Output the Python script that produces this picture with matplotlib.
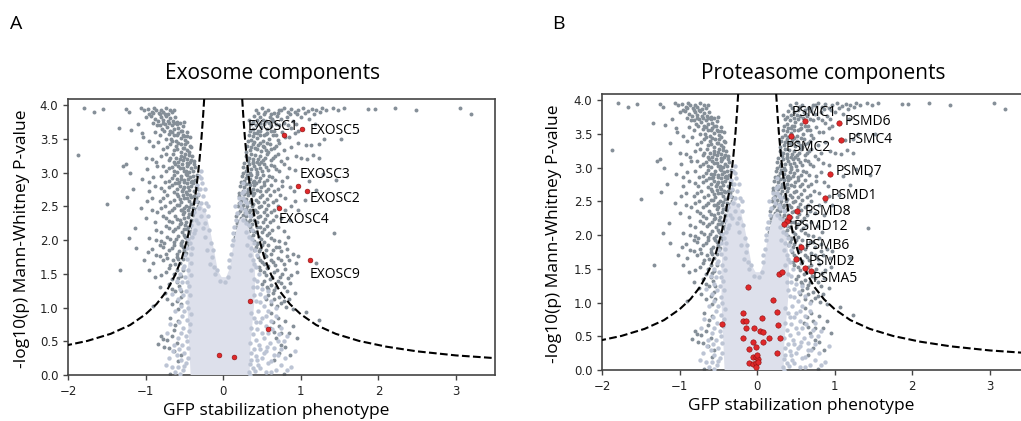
import matplotlib.pyplot as plt

# ---- shared screen background (same genes drawn in both panels) ----
# dark grey genes (x = GFP stabilization phenotype, y = -log10 p)
grey_pts = [
    # top row
    (-1.79, 3.95), (-1.66, 3.90), (-1.55, 3.94), (-1.25, 3.94), (-1.21, 3.90), (-1.06, 3.95),
    (-1.02, 3.93), (-0.97, 3.94), (-0.92, 3.90), (-0.89, 3.95), (-0.86, 3.92), (-0.83, 3.88),
    (-0.80, 3.93), (-0.77, 3.90), (-0.74, 3.95), (-0.71, 3.87), (-0.69, 3.92),
    (0.42, 3.92), (0.50, 3.95), (0.58, 3.93), (0.66, 3.88), (0.72, 3.92), (0.78, 3.95), (0.83, 3.90),
    (0.88, 3.94), (0.92, 3.89), (0.97, 3.93), (1.03, 3.95), (1.09, 3.91), (1.14, 3.94),
    (1.20, 3.92), (1.27, 3.95), (1.33, 3.93), (1.41, 3.95), (1.56, 3.96), (1.86, 3.94),
    (1.95, 3.94), (2.22, 3.95), (2.48, 3.93), (3.05, 3.96), (3.19, 3.87),
    # 3.75 - 3.85
    (-1.00, 3.82), (-0.93, 3.84), (-0.88, 3.80), (-0.84, 3.76), (-0.80, 3.83), (-0.77, 3.78),
    (-0.74, 3.84), (-0.71, 3.76), (-0.68, 3.81), (-0.65, 3.77), (-0.62, 3.83), (-0.59, 3.75),
    (0.40, 3.84), (0.44, 3.78), (0.48, 3.82), (0.52, 3.86), (0.55, 3.77), (0.60, 3.82),
    (0.64, 3.76), (0.69, 3.84), (0.74, 3.79), (0.82, 3.83), (0.90, 3.77), (1.00, 3.82), (1.10, 3.80),
    # 3.6 - 3.75
    (-1.34, 3.66), (-1.19, 3.63), (-1.10, 3.72), (-0.85, 3.70), (-0.79, 3.64), (-0.75, 3.72),
    (-0.72, 3.67), (-0.69, 3.61), (-0.66, 3.70), (-0.63, 3.64), (-0.60, 3.72), (-0.58, 3.66),
    (-0.55, 3.61), (-0.52, 3.69),
    (0.36, 3.72), (0.39, 3.65), (0.42, 3.70), (0.45, 3.62), (0.49, 3.68), (0.53, 3.72),
    (0.57, 3.64), (0.61, 3.69), (0.66, 3.62), (0.72, 3.70), (0.88, 3.66), (0.97, 3.62),
    # 3.45 - 3.6
    (-1.04, 3.58), (-1.03, 3.52), (-0.95, 3.47), (-0.82, 3.55), (-0.74, 3.50), (-0.70, 3.57),
    (-0.67, 3.49), (-0.64, 3.55), (-0.61, 3.47), (-0.58, 3.58), (-0.55, 3.51), (-0.52, 3.56),
    (-0.49, 3.48), (-0.46, 3.54),
    (0.33, 3.55), (0.36, 3.48), (0.40, 3.58), (0.43, 3.51), (0.47, 3.55), (0.51, 3.47),
    (0.55, 3.57), (0.59, 3.50), (0.64, 3.55), (0.70, 3.48), (0.85, 3.52), (0.93, 3.58),
    (1.30, 3.50), (1.52, 3.49),
    # 3.3 - 3.45
    (-0.90, 3.40), (-0.78, 3.35), (-0.68, 3.42), (-0.64, 3.33), (-0.61, 3.39), (-0.58, 3.44),
    (-0.55, 3.31), (-0.52, 3.37), (-0.49, 3.42), (-0.46, 3.34), (-0.43, 3.40),
    (0.31, 3.40), (0.34, 3.33), (0.38, 3.43), (0.41, 3.36), (0.45, 3.41), (0.49, 3.32),
    (0.53, 3.38), (0.57, 3.44), (0.62, 3.35), (0.68, 3.40), (0.78, 3.33), (1.07, 3.41),
    (1.13, 3.41), (1.24, 3.43),
    # 3.15 - 3.3
    (-1.87, 3.26), (-1.29, 3.09), (-1.25, 3.13), (-0.92, 3.20), (-0.80, 3.25), (-0.70, 3.18),
    (-0.65, 3.27), (-0.61, 3.21), (-0.58, 3.15), (-0.55, 3.25), (-0.52, 3.18), (-0.49, 3.28),
    (-0.46, 3.20), (-0.43, 3.16), (-0.40, 3.24),
    (0.29, 3.24), (0.32, 3.17), (0.36, 3.27), (0.39, 3.20), (0.43, 3.15), (0.47, 3.25),
    (0.51, 3.19), (0.56, 3.27), (0.61, 3.18), (0.67, 3.24), (0.74, 3.17), (0.94, 3.25),
    (1.00, 3.21), (1.08, 3.20), (1.24, 3.22),
    # 3.0 - 3.15
    (-0.98, 3.05), (-0.85, 3.10), (-0.74, 3.02), (-0.66, 3.08), (-0.62, 3.13), (-0.59, 3.01),
    (-0.56, 3.07), (-0.53, 3.12), (-0.50, 3.03), (-0.47, 3.09), (-0.44, 3.01), (-0.41, 3.06),
    (-0.38, 3.12),
    (0.26, 3.08), (0.29, 3.02), (0.33, 3.12), (0.36, 3.05), (0.40, 3.10), (0.44, 3.01),
    (0.48, 3.07), (0.53, 3.13), (0.58, 3.04), (0.65, 3.09), (0.72, 3.02), (0.85, 3.07),
    # 2.85 - 3.0
    (-1.05, 2.90), (-0.95, 2.86), (-0.80, 2.95), (-0.70, 2.88), (-0.64, 2.97), (-0.60, 2.90),
    (-0.57, 2.86), (-0.54, 2.95), (-0.51, 2.89), (-0.48, 2.98), (-0.45, 2.91), (-0.42, 2.86),
    (-0.39, 2.95), (-0.36, 2.89),
    (0.24, 2.95), (0.27, 2.88), (0.31, 2.97), (0.34, 2.90), (0.38, 2.86), (0.42, 2.94),
    (0.46, 2.88), (0.51, 2.96), (0.56, 2.89), (0.63, 2.93), (0.76, 2.87), (1.28, 2.98), (1.45, 2.89),
    # 2.7 - 2.85
    (-1.16, 2.76), (-0.88, 2.80), (-0.76, 2.73), (-0.66, 2.82), (-0.60, 2.75), (-0.56, 2.80),
    (-0.53, 2.72), (-0.50, 2.78), (-0.47, 2.84), (-0.44, 2.74), (-0.41, 2.80), (-0.38, 2.72),
    (-0.35, 2.78),
    (0.22, 2.80), (0.25, 2.73), (0.29, 2.83), (0.32, 2.76), (0.36, 2.71), (0.40, 2.81),
    (0.44, 2.74), (0.49, 2.79), (0.55, 2.72), (0.62, 2.82), (0.70, 2.75), (0.86, 2.78), (0.91, 2.72),
    # 2.55 - 2.7
    (-1.50, 2.54), (-0.92, 2.62), (-0.82, 2.58), (-0.72, 2.66), (-0.63, 2.59), (-0.58, 2.65),
    (-0.54, 2.57), (-0.50, 2.63), (-0.47, 2.68), (-0.44, 2.58), (-0.41, 2.64), (-0.38, 2.56),
    (-0.35, 2.62), (-0.32, 2.67),
    (0.20, 2.65), (0.23, 2.58), (0.27, 2.68), (0.30, 2.61), (0.34, 2.56), (0.38, 2.66),
    (0.42, 2.59), (0.47, 2.64), (0.53, 2.57), (0.60, 2.67), (0.68, 2.60), (0.80, 2.63), (1.05, 2.60),
    # 2.4 - 2.55
    (-1.06, 2.47), (-0.85, 2.42), (-0.75, 2.50), (-0.66, 2.44), (-0.60, 2.52), (-0.55, 2.45),
    (-0.51, 2.41), (-0.48, 2.50), (-0.45, 2.44), (-0.42, 2.53), (-0.39, 2.47), (-0.36, 2.41),
    (-0.33, 2.50), (-0.30, 2.44),
    (0.19, 2.50), (0.22, 2.43), (0.26, 2.52), (0.29, 2.46), (0.33, 2.41), (0.37, 2.51),
    (0.41, 2.44), (0.46, 2.49), (0.52, 2.42), (0.58, 2.52), (0.66, 2.45), (0.88, 2.50), (0.96, 2.45),
    # 2.25 - 2.4
    (-0.78, 2.35), (-0.70, 2.28), (-0.62, 2.36), (-0.56, 2.30), (-0.52, 2.38), (-0.48, 2.27),
    (-0.45, 2.34), (-0.42, 2.29), (-0.39, 2.37), (-0.36, 2.31), (-0.33, 2.26), (-0.30, 2.35),
    (0.17, 2.35), (0.21, 2.28), (0.25, 2.37), (0.28, 2.30), (0.32, 2.26), (0.36, 2.36),
    (0.40, 2.29), (0.45, 2.34), (0.51, 2.27), (0.57, 2.37), (0.64, 2.30), (0.75, 2.33),
    # 2.1 - 2.25
    (-0.86, 2.15), (-0.74, 2.21), (-0.65, 2.13), (-0.58, 2.20), (-0.53, 2.12), (-0.49, 2.22),
    (-0.46, 2.16), (-0.43, 2.11), (-0.40, 2.19), (-0.37, 2.13), (-0.34, 2.22), (-0.31, 2.16),
    (0.16, 2.20), (0.20, 2.13), (0.24, 2.22), (0.27, 2.15), (0.31, 2.11), (0.35, 2.20),
    (0.39, 2.14), (0.44, 2.19), (0.50, 2.12), (0.56, 2.21), (0.63, 2.15), (0.84, 2.04), (1.43, 2.10),
    # 1.95 - 2.1
    (-0.95, 2.03), (-0.80, 1.98), (-0.72, 2.05), (-0.64, 1.97), (-0.58, 2.06), (-0.53, 1.99),
    (-0.49, 2.04), (-0.45, 1.96), (-0.42, 2.03), (-0.38, 1.98), (-0.35, 2.06),
    (0.15, 2.05), (0.19, 1.98), (0.23, 2.06), (0.27, 2.00), (0.31, 1.96), (0.35, 2.04),
    (0.40, 1.99), (0.46, 2.05), (0.53, 1.97), (0.62, 2.03), (0.72, 1.98),
    # 1.6 - 1.95
    (-1.12, 1.88), (-0.97, 1.82), (-0.86, 1.78), (-0.78, 1.90), (-0.70, 1.85), (-0.63, 1.92),
    (-0.57, 1.83), (-0.52, 1.89), (-0.48, 1.81), (-0.44, 1.93),
    (0.42, 1.90), (0.46, 1.83), (0.50, 1.92), (0.55, 1.85), (0.61, 1.80), (0.68, 1.89),
    (0.75, 1.83), (0.97, 1.76), (1.20, 1.66),
    (-0.82, 1.76), (-0.69, 1.63), (-0.65, 1.70), (-0.60, 1.75), (-0.56, 1.66), (-0.52, 1.72),
    (-1.33, 1.55),
    (0.47, 1.70), (0.52, 1.65), (0.58, 1.62), (0.64, 1.68), (0.70, 1.74), (0.78, 1.64), (0.85, 1.71),
    # 1.0 - 1.6
    (-0.88, 1.45), (-0.74, 1.52), (-0.66, 1.42), (-0.60, 1.55), (-0.55, 1.47),
    (0.48, 1.55), (0.55, 1.48), (0.60, 1.42), (0.66, 1.52), (0.73, 1.45), (0.80, 1.57), (0.88, 1.48),
    (-0.70, 1.35), (-0.62, 1.25), (-0.57, 1.32),
    (0.50, 1.35), (0.58, 1.28), (0.64, 1.22), (0.68, 1.31), (0.74, 1.37), (0.82, 1.25),
    (-0.60, 1.09), (-0.55, 1.15),
    (0.55, 1.12), (0.62, 1.05), (0.72, 1.16), (0.81, 1.01), (0.78, 1.10),
    # below 1.0
    (-0.78, 0.54), (-0.72, 0.52), (-0.76, 0.42), (-0.70, 0.40), (-0.63, 0.67), (-0.58, 0.80),
    (-0.55, 0.30), (-0.68, 0.02),
    (0.62, 0.92), (0.70, 0.85), (0.90, 0.72), (0.85, 0.62), (0.68, 0.55), (0.75, 0.45),
    (1.07, 0.94), (1.24, 0.81), (0.60, 0.70), (0.78, 0.02),
]

# more dark grey genes filling the two dense ridges
grey_ridge_pts = [
    (-0.95, 3.86), (-0.90, 3.88), (-0.81, 3.86), (-0.75, 3.86), (-0.66, 3.89), (-0.63, 3.92),
    (-0.90, 3.73), (-0.82, 3.70), (-0.78, 3.74), (-0.70, 3.73), (-0.64, 3.74), (-0.56, 3.73),
    (-0.50, 3.75), (-0.88, 3.60), (-0.76, 3.62), (-0.66, 3.60), (-0.60, 3.55), (-0.53, 3.62),
    (-0.50, 3.54), (-0.47, 3.60), (-0.43, 3.52), (-0.84, 3.45), (-0.72, 3.38), (-0.66, 3.46),
    (-0.60, 3.35), (-0.54, 3.43), (-0.50, 3.36), (-0.47, 3.45), (-0.44, 3.31), (-0.41, 3.38),
    (-1.12, 3.36), (-0.74, 3.28), (-0.68, 3.22), (-0.63, 3.16), (-0.56, 3.20), (-0.50, 3.23),
    (-0.47, 3.14), (-0.44, 3.26), (-0.41, 3.19), (-0.37, 3.17), (-1.00, 3.22), (-0.86, 3.16),
    (-0.78, 3.10), (-0.70, 3.06), (-0.64, 3.03), (-0.58, 3.10), (-0.52, 3.07), (-0.48, 3.02),
    (-0.45, 3.13), (-0.39, 3.02), (-0.36, 3.08), (-1.20, 3.00), (-0.90, 2.94), (-0.75, 2.86),
    (-0.66, 2.92), (-0.62, 2.85), (-0.55, 2.91), (-0.50, 2.86), (-0.46, 2.96), (-0.43, 2.93),
    (-0.40, 2.88), (-0.34, 2.96), (-0.96, 2.72), (-0.80, 2.77), (-0.70, 2.79), (-0.63, 2.71),
    (-0.58, 2.84), (-0.52, 2.76), (-0.48, 2.71), (-0.45, 2.79), (-0.39, 2.84), (-0.33, 2.75),
    (-1.24, 2.64), (-0.98, 2.58), (-0.78, 2.63), (-0.68, 2.56), (-0.60, 2.68), (-0.56, 2.61),
    (-0.52, 2.67), (-0.46, 2.62), (-0.43, 2.66), (-0.37, 2.65), (-0.33, 2.57), (-0.92, 2.45),
    (-0.80, 2.48), (-0.70, 2.41), (-0.63, 2.48), (-0.57, 2.52), (-0.53, 2.44), (-0.50, 2.47),
    (-0.44, 2.49), (-0.40, 2.42), (-0.35, 2.46), (-1.00, 2.32), (-0.88, 2.27), (-0.74, 2.33),
    (-0.66, 2.26), (-0.60, 2.31), (-0.54, 2.25), (-0.50, 2.33), (-0.44, 2.38), (-0.38, 2.27),
    (-0.34, 2.34), (-1.14, 2.18), (-0.80, 2.12), (-0.70, 2.18), (-0.62, 2.16), (-0.56, 2.24),
    (-0.51, 2.17), (-0.45, 2.20), (-0.41, 2.14), (-0.35, 2.17), (-1.22, 2.03), (-0.86, 2.00),
    (-0.76, 1.96), (-0.68, 2.01), (-0.61, 2.02), (-0.55, 1.96), (-0.51, 2.08), (-0.47, 2.01),
    (-0.40, 2.07), (-0.92, 1.86), (-0.82, 1.92), (-0.74, 1.80), (-0.66, 1.88), (-0.60, 1.80),
    (-0.54, 1.93), (-0.50, 1.85), (-1.02, 1.70), (-0.90, 1.66), (-0.78, 1.70), (-0.72, 1.74),
    (-0.62, 1.64), (-0.58, 1.72), (-0.96, 1.55), (-0.80, 1.48), (-0.70, 1.58), (-0.64, 1.50),
    (-0.58, 1.44), (-0.52, 1.56), (-0.82, 1.30), (-0.75, 1.22), (-0.66, 1.28), (-0.60, 1.38),
    (-0.54, 1.24), (-0.90, 1.02), (-0.72, 1.12), (-0.66, 1.05), (-0.58, 0.98), (-0.54, 1.05),
    (-0.68, 0.85), (-0.62, 0.74), (-0.66, 0.58), (-0.60, 0.48), (-0.64, 0.35), (-0.58, 0.20),
    (-0.84, 0.46), (-0.80, 0.58),
    (0.45, 3.88), (0.54, 3.90), (0.61, 3.86), (0.70, 3.88), (0.75, 3.92), (0.86, 3.87),
    (0.95, 3.86), (1.05, 3.88), (1.17, 3.87), (1.25, 3.90), (1.48, 3.92), (0.33, 3.78),
    (0.38, 3.75), (0.47, 3.74), (0.51, 3.78), (0.59, 3.74), (0.63, 3.79), (0.68, 3.72),
    (0.78, 3.74), (0.84, 3.70), (0.94, 3.72), (1.18, 3.72), (0.34, 3.62), (0.38, 3.54),
    (0.44, 3.58), (0.48, 3.62), (0.52, 3.55), (0.57, 3.59), (0.62, 3.62), (0.68, 3.55),
    (0.76, 3.60), (0.80, 3.52), (0.32, 3.46), (0.36, 3.38), (0.40, 3.45), (0.44, 3.35),
    (0.47, 3.44), (0.51, 3.40), (0.55, 3.34), (0.60, 3.42), (0.65, 3.36), (0.72, 3.44),
    (0.88, 3.38), (0.96, 3.44), (0.30, 3.30), (0.33, 3.21), (0.38, 3.15), (0.41, 3.26),
    (0.45, 3.20), (0.49, 3.15), (0.54, 3.22), (0.58, 3.30), (0.64, 3.21), (0.70, 3.27),
    (0.82, 3.22), (1.16, 3.26), (0.27, 3.14), (0.31, 3.06), (0.35, 3.00), (0.38, 3.14),
    (0.42, 3.05), (0.46, 3.12), (0.50, 3.02), (0.55, 3.08), (0.61, 3.11), (0.68, 3.05),
    (0.78, 3.12), (0.92, 3.04), (0.25, 2.99), (0.29, 2.92), (0.33, 2.85), (0.36, 2.96),
    (0.40, 2.88), (0.44, 2.98), (0.48, 2.92), (0.53, 2.86), (0.59, 2.95), (0.67, 2.89),
    (0.82, 2.94), (1.10, 2.88), (0.23, 2.86), (0.27, 2.78), (0.31, 2.71), (0.34, 2.82),
    (0.38, 2.75), (0.42, 2.84), (0.47, 2.73), (0.52, 2.81), (0.58, 2.76), (0.66, 2.72),
    (0.76, 2.80), (1.20, 2.74), (0.21, 2.70), (0.25, 2.62), (0.29, 2.56), (0.32, 2.66),
    (0.36, 2.60), (0.40, 2.69), (0.45, 2.57), (0.50, 2.66), (0.56, 2.61), (0.64, 2.57),
    (0.73, 2.66), (0.92, 2.58), (0.20, 2.55), (0.24, 2.47), (0.28, 2.41), (0.31, 2.51),
    (0.35, 2.44), (0.39, 2.53), (0.44, 2.42), (0.49, 2.50), (0.55, 2.46), (0.62, 2.41),
    (0.70, 2.50), (0.80, 2.45), (0.19, 2.40), (0.23, 2.32), (0.27, 2.26), (0.30, 2.36),
    (0.34, 2.29), (0.38, 2.39), (0.43, 2.27), (0.48, 2.35), (0.54, 2.31), (0.60, 2.26),
    (0.68, 2.36), (0.86, 2.30), (0.18, 2.25), (0.22, 2.17), (0.26, 2.11), (0.29, 2.21),
    (0.33, 2.14), (0.37, 2.24), (0.42, 2.12), (0.47, 2.20), (0.53, 2.16), (0.59, 2.11),
    (0.70, 2.20), (0.78, 2.14), (0.17, 2.10), (0.21, 2.01), (0.25, 1.96), (0.29, 2.06),
    (0.33, 1.99), (0.38, 2.08), (0.43, 1.96), (0.49, 2.02), (0.57, 2.07), (0.66, 2.00),
    (0.80, 1.95), (0.40, 1.85), (0.44, 1.94), (0.48, 1.86), (0.53, 1.80), (0.58, 1.92),
    (0.64, 1.85), (0.72, 1.90), (0.82, 1.86), (0.90, 1.80), (0.45, 1.75), (0.50, 1.68),
    (0.55, 1.76), (0.61, 1.70), (0.67, 1.63), (0.74, 1.70), (0.82, 1.76), (0.94, 1.66),
    (0.46, 1.60), (0.52, 1.52), (0.57, 1.58), (0.63, 1.45), (0.69, 1.55), (0.76, 1.50),
    (0.84, 1.44), (0.95, 1.52), (0.53, 1.40), (0.56, 1.30), (0.61, 1.34), (0.66, 1.26),
    (0.71, 1.40), (0.78, 1.30), (0.86, 1.36), (0.92, 1.22), (0.58, 1.18), (0.65, 1.12),
    (0.69, 1.02), (0.75, 1.06), (0.85, 1.12), (0.90, 0.98), (0.64, 0.78), (0.72, 0.72),
    (0.80, 0.80), (0.66, 0.64), (0.74, 0.62), (0.80, 0.42), (0.72, 0.32), (0.86, 0.30),
    (0.66, 0.22), (0.95, 0.55),
]

# pale genes fringing the dense non-hit cloud
light_pts = [
    (-0.62, 0.05), (-0.58, 0.12), (-0.52, 0.08), (-0.48, 0.18), (-0.55, 0.22), (-0.60, 0.30),
    (-0.50, 0.33), (-0.45, 0.40), (-0.53, 0.45), (-0.58, 0.55), (-0.48, 0.58), (-0.44, 0.65),
    (-0.52, 0.70), (-0.57, 0.78), (-0.47, 0.82), (-0.42, 0.90), (-0.50, 0.95), (-0.55, 1.02),
    (-0.46, 1.08), (-0.52, 1.18), (-0.48, 1.25), (-0.44, 1.32), (-0.53, 1.38), (-0.49, 1.45),
    (-0.45, 1.55), (-0.50, 1.62), (-0.46, 1.72), (-0.42, 1.80), (-0.47, 1.88), (-0.43, 1.95),
    (-0.40, 2.05), (-0.36, 2.15), (-0.32, 2.25), (-0.28, 2.35), (-0.25, 2.45), (-0.29, 2.55),
    (-0.26, 2.65), (-0.30, 2.75), (-0.27, 2.85), (-0.31, 2.95), (-0.28, 3.02), (-0.22, 2.55),
    (-0.20, 2.35), (-0.18, 2.15), (-0.24, 2.05), (-0.16, 1.95), (-0.14, 1.75), (-0.12, 1.60),
    (-0.10, 1.50), (-0.21, 1.85), (-0.70, 0.25), (-0.66, 0.12), (-0.72, 0.62),
    (-0.56, 0.02), (-0.50, 0.14), (-0.45, 0.25), (-0.57, 0.38), (-0.47, 0.50), (-0.55, 0.62),
    (-0.43, 0.75), (-0.53, 0.88), (-0.45, 1.00), (-0.58, 1.12), (-0.43, 1.18), (-0.56, 1.28),
    (-0.47, 1.38), (-0.56, 1.50), (-0.41, 1.48), (-0.52, 1.58), (-0.42, 1.66), (-0.49, 1.78),
    (-0.40, 1.88), (-0.45, 2.02), (-0.38, 2.10), (-0.42, 2.22), (-0.35, 2.30), (-0.38, 2.42),
    (-0.31, 2.48), (-0.35, 2.58), (-0.32, 2.68), (-0.24, 2.75), (-0.34, 2.82), (-0.29, 2.92),
    (-0.24, 2.25), (-0.19, 2.50), (-0.26, 2.18), (-0.13, 1.85), (-0.17, 1.65), (-0.08, 1.55),
    (-0.64, 0.45), (-0.68, 0.75), (-0.62, 0.95), (-0.66, 1.20), (-0.60, 1.40), (-0.74, 0.15),
    (-0.65, 0.35),
    (0.33, 0.05), (0.38, 0.10), (0.45, 0.15), (0.36, 0.22), (0.42, 0.28), (0.50, 0.25),
    (0.55, 0.35), (0.40, 0.38), (0.46, 0.45), (0.60, 0.48), (0.52, 0.55), (0.38, 0.60),
    (0.44, 0.68), (0.58, 0.62), (0.65, 0.40), (0.70, 0.30), (0.62, 0.20), (0.75, 0.15),
    (0.68, 0.08), (0.80, 0.25), (0.48, 0.78), (0.40, 0.85), (0.55, 0.88), (0.62, 0.80),
    (0.45, 0.95), (0.52, 1.02), (0.42, 1.10), (0.48, 1.20), (0.58, 1.25), (0.44, 1.30),
    (0.40, 1.42), (0.46, 1.50), (0.42, 1.60), (0.38, 1.70), (0.44, 1.78), (0.36, 1.88),
    (0.40, 1.96), (0.33, 2.05), (0.37, 2.15), (0.30, 2.25), (0.34, 2.35), (0.28, 2.45),
    (0.31, 2.55), (0.26, 2.62), (0.22, 2.55), (0.18, 2.40), (0.14, 2.20), (0.12, 2.00),
    (0.10, 1.80), (0.08, 1.60), (0.06, 1.45), (0.02, 1.38), (-0.04, 1.40), (0.27, 2.72),
    (0.25, 2.85), (0.72, 0.60), (0.78, 0.50), (0.82, 0.58), (0.92, 0.35), (0.87, 0.12),
    (0.35, 0.00), (0.41, 0.06), (0.48, 0.10), (0.55, 0.05), (0.58, 0.18), (0.34, 0.16),
    (0.44, 0.22), (0.52, 0.32), (0.36, 0.33), (0.48, 0.38), (0.57, 0.42), (0.35, 0.48),
    (0.42, 0.52), (0.50, 0.62), (0.36, 0.70), (0.55, 0.72), (0.42, 0.78), (0.50, 0.85),
    (0.36, 0.92), (0.58, 0.95), (0.48, 1.08), (0.40, 1.18), (0.54, 1.15), (0.38, 1.30),
    (0.50, 1.28), (0.36, 1.55), (0.44, 1.40), (0.40, 1.65), (0.35, 1.78), (0.41, 1.85),
    (0.31, 1.92), (0.37, 2.02), (0.29, 2.12), (0.33, 2.22), (0.26, 2.30), (0.30, 2.40),
    (0.23, 2.48), (0.28, 2.58), (0.20, 2.62), (0.24, 2.70), (0.16, 2.30), (0.13, 2.10),
    (0.11, 1.92), (0.07, 1.70), (0.15, 2.50), (0.66, 0.30), (0.70, 0.50), (0.63, 0.68),
    (0.68, 0.88), (0.74, 0.38), (0.82, 0.08), (0.62, 0.05), (0.75, 0.70), (0.68, 1.00),
    (0.62, 1.10),
]

# outline of the saturated cloud of non-hits
core_x = [-0.42, -0.44, -0.46, -0.46, -0.44, -0.40, -0.35, -0.30, -0.22, -0.16, -0.11, -0.07,
          -0.02, 0.04, 0.09, 0.12, 0.16, 0.21, 0.26, 0.32, 0.38, 0.41, 0.41, 0.38, 0.35, 0.34]
core_y = [0.0, 0.5, 1.0, 1.5, 1.9, 2.2, 2.45, 2.55, 2.4, 2.1, 1.8, 1.55,
          1.45, 1.45, 1.6, 1.85, 2.1, 2.3, 2.35, 2.2, 1.95, 1.6, 1.2, 0.8, 0.4, 0.0]

# significance threshold (right branch; left branch is its mirror)
thr_x = [0.245, 0.26, 0.28, 0.31, 0.35, 0.40, 0.46, 0.53, 0.62, 0.73, 0.86, 1.0,
         1.2, 1.45, 1.75, 2.1, 2.5, 3.0, 3.5]
thr_y = [4.09, 3.82, 3.51, 3.13, 2.73, 2.36, 2.03, 1.74, 1.48, 1.24, 1.05, 0.90,
         0.74, 0.61, 0.505, 0.42, 0.35, 0.29, 0.25]

# ---- panel A: exosome ----
exo_names = ['EXOSC1', 'EXOSC5', 'EXOSC3', 'EXOSC2', 'EXOSC4', 'EXOSC9']
exo_x = [0.79, 1.02, 0.96, 1.08, 0.725, 1.12, 0.35, 0.58, -0.06, 0.14]
exo_y = [3.56, 3.65, 2.80, 2.73, 2.47, 1.70, 1.10, 0.68, 0.29, 0.26]
exo_lab_x = [0.31, 1.11, 0.98, 1.11, 0.72, 1.11]
exo_lab_y = [3.63, 3.57, 2.92, 2.57, 2.25, 1.44]

# ---- panel B: proteasome ----
pro_names = ['PSMC1', 'PSMD6', 'PSMC4', 'PSMC2', 'PSMD7', 'PSMD1', 'PSMD8', 'PSMD12',
             'PSMB6', 'PSMD2', 'PSMA5']
pro_x = [0.62, 1.06, 1.08, 0.43, 0.94, 0.88, 0.515, 0.39, 0.57, 0.50, 0.69,
         0.41, 0.34, 0.61, 0.28, 0.32, -0.12, 0.21, 0.26, -0.18, -0.18, -0.15, 0.06,
         -0.45, -0.14, -0.04, 0.27, 0.03, 0.07, -0.18, 0.15, 0.29, -0.06, 0.07, -0.10,
         -0.01, 0.25, -0.05, -0.01, 0.01, -0.10, -0.06, -0.01, -0.02, 0.01, 0.0]
pro_y = [3.69, 3.66, 3.41, 3.47, 2.91, 2.55, 2.36, 2.21, 1.82, 1.65, 1.46,
         2.27, 2.16, 1.51, 1.43, 1.45, 1.23, 1.04, 0.86, 0.84, 0.72, 0.73, 0.77,
         0.68, 0.63, 0.62, 0.67, 0.58, 0.57, 0.47, 0.48, 0.47, 0.42, 0.42, 0.31,
         0.34, 0.25, 0.19, 0.20, 0.16, 0.11, 0.09, 0.10, 0.05, 0.12, 0.22]
pro_lab_x = [0.44, 1.13, 1.16, 0.37, 1.01, 0.95, 0.61, 0.47, 0.61, 0.66, 0.72]
pro_lab_y = [3.76, 3.63, 3.37, 3.25, 2.89, 2.53, 2.30, 2.07, 1.80, 1.55, 1.31]

TXT = 'Open Sans'
GREY = '#858f98'
LIGHT = '#bcc4d4'
CORE = '#dde0eb'
RED = '#e0282a'

fig = plt.figure(figsize=(10.21, 4.21), dpi=100)
axA = fig.add_axes([0.0666, 0.1093, 0.418, 0.6556])
axB = fig.add_axes([0.5896, 0.1211, 0.418, 0.6556])


def draw_panel(ax, hx, hy, names, lx, ly, red_size):
    pts = grey_pts + grey_ridge_pts
    ax.scatter([p[0] for p in pts], [p[1] for p in pts], s=8, color=GREY,
               linewidths=0, zorder=2)
    ax.fill(core_x, core_y, color=CORE, lw=0, zorder=3)
    ax.scatter([p[0] for p in light_pts], [p[1] for p in light_pts], s=10, color=LIGHT,
               linewidths=0, zorder=3)
    ax.plot(thr_x, thr_y, color='black', lw=1.5, ls='--', zorder=5)
    ax.plot([-v for v in thr_x], thr_y, color='black', lw=1.5, ls='--', zorder=5)
    ax.scatter(hx, hy, s=red_size, color=RED, edgecolors='#8a1010', linewidths=0.4, zorder=6)
    for name, x, y in zip(names, lx, ly):
        ax.text(x, y, name, fontsize=10, family=TXT, va='baseline', ha='left', zorder=7)

    ax.set_xlim(-2, 3.5)
    ax.set_ylim(0, 4.09)
    ax.set_xticks([-2, -1, 0, 1, 2, 3])
    ax.set_yticks([0, 0.5, 1.0, 1.5, 2.0, 2.5, 3.0, 3.5, 4.0])
    ax.tick_params(labelsize=8.5, length=3.5, width=1, color='#444', labelcolor='#222')
    for sp in ax.spines.values():
        sp.set_color('#444')
        sp.set_linewidth(1.2)


draw_panel(axA, exo_x, exo_y, exo_names, exo_lab_x, exo_lab_y, 12)
draw_panel(axB, pro_x, pro_y, pro_names, pro_lab_x, pro_lab_y, 15)

# titles, axis labels and panel letters
fig.text(0.2674, 1 - 79 / 421, 'Exosome components', fontsize=15, family=TXT,
         ha='center', va='baseline')
fig.text(0.806, 1 - 79 / 421, 'Proteasome components', fontsize=15, family=TXT,
         ha='center', va='baseline')
fig.text(0.2703, 1 - 415 / 421, 'GFP stabilization phenotype', fontsize=12.5, family=TXT,
         ha='center', va='baseline')
fig.text(0.7845, 1 - 410 / 421, 'GFP stabilization phenotype', fontsize=12.5, family=TXT,
         ha='center', va='baseline')
fig.text(0.0215, 0.432, '-log10(p) Mann-Whitney P-value', fontsize=12.5, family=TXT,
         rotation=90, ha='center', va='center')
fig.text(0.5426, 0.444, '-log10(p) Mann-Whitney P-value', fontsize=12.5, family=TXT,
         rotation=90, ha='center', va='center')
fig.text(0.0098, 1 - 29 / 421, 'A', fontsize=14, family=TXT, va='baseline')
fig.text(0.5406, 1 - 29 / 421, 'B', fontsize=14, family=TXT, va='baseline')

fig.savefig('out.png', dpi=100)
